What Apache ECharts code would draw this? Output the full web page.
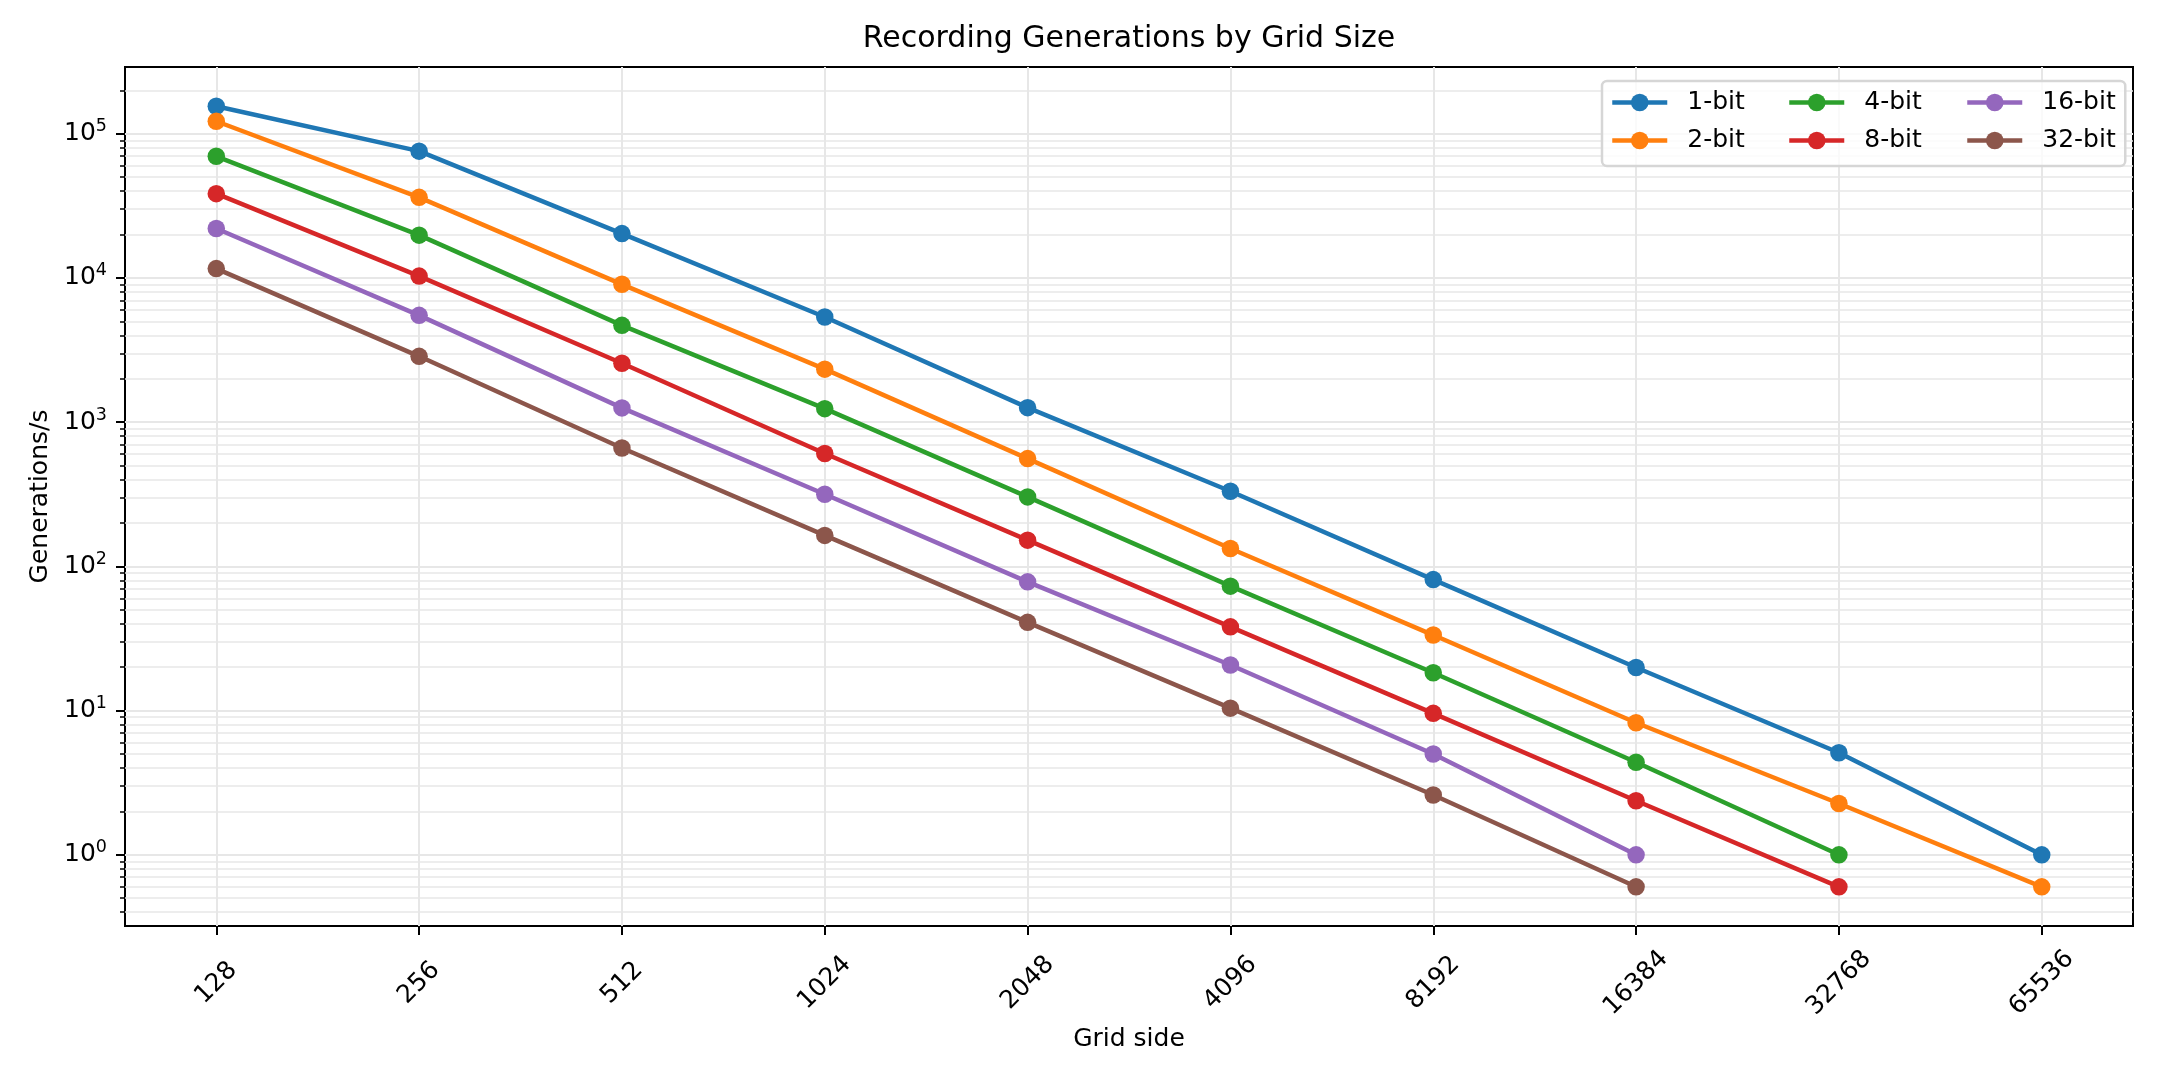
<!DOCTYPE html>
<html>
<head>
<meta charset="utf-8">
<title>Recording Generations by Grid Size</title>
<script src="https://cdn.jsdelivr.net/npm/echarts@6/dist/echarts.min.js"></script>
<style>
    html, body {
        margin: 0;
        padding: 0;
        background: #fff;
    }
    #chart {
        width: 2160px;
        height: 1080px;
    }
</style>
</head>
<body>
<div id="chart"></div>
<script>
// grid sides (x axis)
var gridSides = [128, 256, 512, 1024, 2048, 4096, 8192, 16384, 32768, 65536];

// generations per second
var bit1 = [155000, 75700, 20300, 5360, 1260, 332, 81, 19.9, 5.1, 1.0];
var bit2 = [122000, 36200, 9030, 2330, 559, 133, 33.4, 8.24, 2.27, 0.6];
var bit4 = [69700, 19800, 4690, 1240, 303, 72.9, 18.3, 4.38, 1.0];
var bit8 = [38400, 10300, 2560, 606, 152, 38.1, 9.57, 2.37, 0.6];
var bit16 = [22000, 5500, 1255, 316, 78.1, 20.7, 5.0, 1.0];
var bit32 = [11600, 2860, 662, 164, 40.9, 10.4, 2.6, 0.6];

var seriesNames = ["1-bit", "2-bit", "4-bit", "8-bit", "16-bit", "32-bit"];
var seriesValues = [bit1, bit2, bit4, bit8, bit16, bit32];
var colors = ["#1f77b4", "#ff7f0e", "#2ca02c", "#d62728", "#9467bd", "#8c564b"];

// y ticks
var majorTicks = [1, 10, 100, 1000, 10000, 100000];
var minorSteps = [2, 3, 4, 5, 6, 7, 8, 9];

var font = "DejaVu Sans";
var yMin = 0.321;
var yMax = 290000;
var xMin = 93.7;
var xMax = 89520;

var minorTicks = [];
[0.1].concat(majorTicks).forEach(function (base) {
    minorSteps.forEach(function (k) {
        var v = base * k;
        if (v > yMin && v < yMax) minorTicks.push(v);
    });
});

var chart = echarts.init(document.getElementById("chart"));

var series = seriesValues.map(function (vals, s) {
    return {
        name: seriesNames[s],
        type: "line",
        symbol: "circle",
        symbolSize: 17.5,
        xAxisIndex: 0,
        yAxisIndex: 0,
        lineStyle: { color: colors[s], width: 4.5 },
        itemStyle: { color: colors[s] },
        z: 3,
        data: vals.map(function (v, i) {
            return [gridSides[i], v];
        }),
    };
});

var legendText = {
    fontFamily: font,
    fontSize: 25,
    color: "#000",
    lineHeight: 22,
    width: 60,
    padding: [0, 0, 0, 15],
};

// shared look of the three legend columns
function legendColumn(names, left, top, padding, z) {
    return {
        data: names,
        orient: "vertical",
        left: left,
        top: top,
        padding: padding,
        itemWidth: 55,
        itemHeight: 22,
        itemGap: 13,
        lineStyle: { width: 4.5 },
        textStyle: legendText,
        z: z,
    };
}

var legend0 = legendColumn(["1-bit", "2-bit"], 1602, 81, [9, 378, 13, 8], 5);
legend0.backgroundColor = "rgba(255,255,255,0.8)";
legend0.borderColor = "#d6d6d6";
legend0.borderWidth = 2.5;
legend0.borderRadius = 5;

var option = {
    animation: false,
    backgroundColor: "#fff",
    color: colors,
    title: {
        text: "Recording Generations by Grid Size",
        left: 1129,
        textAlign: "center",
        top: 24,
        padding: 0,
        textStyle: {
            fontFamily: font,
            fontSize: 30,
            fontWeight: "normal",
            color: "#000",
        },
    },
    // legend split in 3 columns, the first one carries the frame
    legend: [
        legend0,
        legendColumn(["4-bit", "8-bit"], 1787, 90, 0, 6),
        legendColumn(["16-bit", "32-bit"], 1965, 90, 0, 6),
    ],
    grid: {
        left: 125,
        right: 27,
        top: 67,
        bottom: 154,
        show: true,
        borderColor: "#000",
        borderWidth: 2,
        backgroundColor: "transparent",
    },
    xAxis: {
        type: "log",
        logBase: 2,
        min: xMin,
        max: xMax,
        name: "Grid side",
        nameLocation: "middle",
        nameGap: 98,
        nameTextStyle: { fontFamily: font, fontSize: 25, color: "#000" },
        axisLine: { show: false },
        axisTick: {
            show: true,
            length: 9,
            customValues: gridSides,
            lineStyle: { color: "#000", width: 2 },
        },
        axisLabel: {
            customValues: gridSides,
            rotate: 45,
            align: "center",
            verticalAlign: "middle",
            margin: 57,
            fontFamily: font,
            fontSize: 25,
            color: "#000",
            formatter: function (v) {
                return String(Math.round(v));
            },
        },
        splitLine: {
            show: true,
            lineStyle: { color: "#e7e7e7", width: 2 },
        },
    },
    yAxis: [
        {
            type: "log",
            min: yMin,
            max: yMax,
            name: "Generations/s",
            nameLocation: "middle",
            nameGap: 71,
            nameTextStyle: { fontFamily: font, fontSize: 25, color: "#000" },
            axisLine: { show: false },
            axisTick: {
                show: true,
                length: 9,
                customValues: majorTicks,
                lineStyle: { color: "#000", width: 2 },
            },
            axisLabel: {
                customValues: majorTicks,
                margin: 18,
                fontFamily: font,
                fontSize: 25,
                color: "#000",
                formatter: function (v) {
                    return "{b|10}{s|" + Math.round(Math.log10(v)) + "}";
                },
                rich: {
                    b: { fontFamily: font, fontSize: 25, color: "#000" },
                    s: { fontFamily: font, fontSize: 17.5, color: "#000", padding: [0, 0, 14, 0] },
                },
            },
            splitLine: {
                show: true,
                lineStyle: { color: "#e7e7e7", width: 2 },
            },
        },
        {
            // minor ticks and minor grid lines
            type: "log",
            min: yMin,
            max: yMax,
            position: "left",
            axisLine: { show: false },
            axisLabel: { show: false },
            axisTick: {
                show: true,
                length: 5,
                customValues: minorTicks,
                lineStyle: { color: "#000", width: 1.5 },
            },
            splitLine: {
                show: true,
                lineStyle: { color: "#e7e7e7", width: 1.5 },
            },
        },
    ],
    series: series,
};

chart.setOption(option);
</script>
</body>
</html>
